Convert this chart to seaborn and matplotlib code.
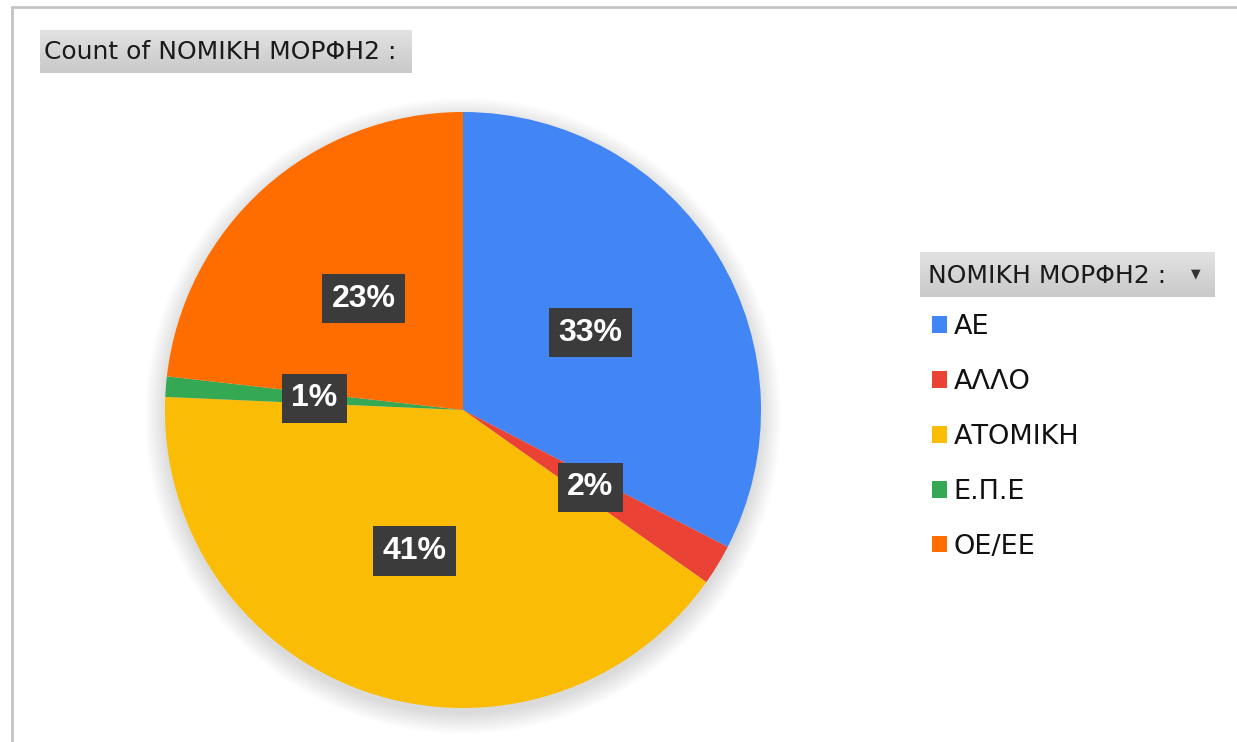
import numpy as np
import matplotlib
matplotlib.use("Agg")
import matplotlib.pyplot as plt
import seaborn as sns
from matplotlib.patches import Circle
from matplotlib.lines import Line2D

sns.set_theme(style="white")
plt.rcParams['font.family'] = ['DejaVu Sans']

# ---- data ----
categories = ["ΑΕ", "ΑΛΛΟ", "ΑΤΟΜΙΚΗ", "Ε.Π.Ε", "ΟΕ/ΕΕ"]
shares = [32.6, 2.2, 40.9, 1.1, 23.2]
colors = ["#4285F4", "#EA4335", "#FBBC05", "#34A853", "#FF6D00"]
title_text = "Count of NOMIKH MOPΦH2 :"
legend_title = "NOMIKH MOPΦH2 :"

W, H = 1237, 742
fig = plt.figure(figsize=(W / 100, H / 100), dpi=100)
fig.patch.set_facecolor("white")


def px_axes(x0, y0, x1, y1, **kw):
    """axes from pixel box (top-left origin)"""
    return fig.add_axes([x0 / W, 1 - y1 / H, (x1 - x0) / W, (y1 - y0) / H], **kw)


def gradient_box(x0, y0, x1, y1):
    a = px_axes(x0, y0, x1, y1)
    grad = np.linspace(0, 1, 50).reshape(-1, 1)
    cmap = matplotlib.colors.LinearSegmentedColormap.from_list("g", ["#E2E2E2", "#C9C9C9"])
    a.imshow(grad, aspect="auto", cmap=cmap, extent=[0, 1, 0, 1], origin="upper")
    a.set_axis_off()
    return a


# frame lines (top and left)
fig.add_artist(Line2D([12 / W, 1], [1 - 7 / H, 1 - 7 / H], color="#C4C4C4", lw=2))
fig.add_artist(Line2D([12 / W, 12 / W], [0, 1 - 7 / H], color="#C4C4C4", lw=2))

# title box
gradient_box(40, 30, 412, 73)
fig.text(44 / W, 1 - 52 / H, title_text, fontsize=18, color="#1A1A1A",
         va="center", ha="left", family=["DejaVu Sans"])

# pie
cx, cy, r = 463, 410, 298
k = 1.1
ax = px_axes(cx - r * k, cy - r * k, cx + r * k, cy + r * k)
# soft drop shadow
for i in range(12):
    ax.add_patch(Circle((0.0, -0.02), 1.0 + i * 0.006, facecolor="#000000",
                        alpha=0.012, edgecolor="none", zorder=0))
wedges, texts, autotexts = ax.pie(
    shares, colors=colors, startangle=90, counterclock=False,
    radius=1, autopct="%.0f%%", pctdistance=0.5,
    wedgeprops=dict(linewidth=0, zorder=2),
    textprops=dict(color="white", fontsize=23, fontweight="bold",
                   family=["Liberation Sans"], zorder=5))
for t in autotexts:
    t.set_bbox(dict(boxstyle="square,pad=0.3", facecolor="#3B3B3B", edgecolor="none"))
ax.set_xlim(-k, k)
ax.set_ylim(-k, k)
ax.set_axis_off()

# legend header box
gradient_box(920, 252, 1215, 297)
fig.text(928 / W, 1 - 276 / H, legend_title, fontsize=18, color="#1A1A1A",
         va="center", ha="left", family=["DejaVu Sans"])
fig.text(1196 / W, 1 - 274 / H, "▼", fontsize=9, color="#333333",
         va="center", ha="center")

# legend
leg = fig.legend(wedges, categories, loc="upper left",
                 bbox_to_anchor=(932 / W, 1 - 314 / H),
                 frameon=False, handlelength=0.55, handleheight=0.55,
                 handletextpad=0.25, labelspacing=1.07, borderpad=0, borderaxespad=0,
                 prop=dict(family=["DejaVu Sans"], size=19.5))
for t in leg.get_texts():
    t.set_color("#111111")

fig.savefig("out.png", dpi=100, facecolor="white")
